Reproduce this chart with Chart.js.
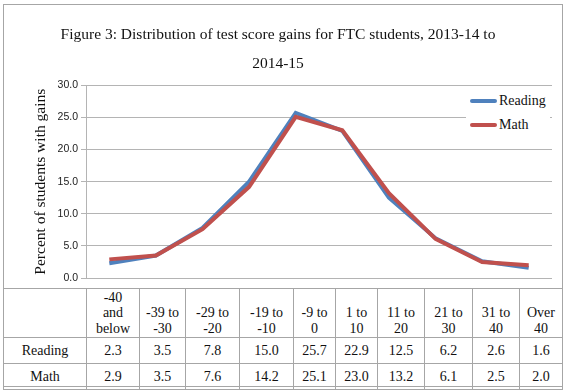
<!DOCTYPE html>
<html>
<head>
<meta charset="utf-8">
<script src="https://cdn.jsdelivr.net/npm/chart.js@4"></script>
<style>
  body { margin: 0; background: #fff; }
  #wrap { position: relative; width: 565px; height: 391px; }
  #frame { position: absolute; left: 3px; top: 4px; width: 558px; height: 381px; border: 1px solid #a6a6a6; }
  #chart { position: absolute; left: 0; top: 0; }
  #legend { position: absolute; left: 466px; top: 90px; width: 84px; height: 50px; background: #fff;
            font-family: "Liberation Serif", serif; font-size: 14px; color: #111; }
  #legend .item { position: absolute; left: 4px; height: 16px; line-height: 16px; }
  #legend .swatch { position: absolute; left: 0; top: 6px; width: 27px; height: 4px; border-radius: 2px; }
  #legend .lbl { position: absolute; left: 29px; top: 0; white-space: nowrap; }
  #tbl { position: absolute; left: 3px; top: 288px; border-collapse: collapse; table-layout: fixed;
         font-family: "Liberation Serif", serif; font-size: 14px; color: #111; }
  #tbl td { border: 1px solid #a6a6a6; text-align: center; padding: 0 1px; }
  #tbl tr.head td { height: 47px; vertical-align: bottom; line-height: 15.5px; padding-bottom: 1px; }
  #tbl tr.val td { height: 25px; vertical-align: middle; }
</style>
</head>
<body>
<div id="wrap">
  <div id="frame"></div>
  <canvas id="chart" width="565" height="288"></canvas>
  <div id="legend"></div>
  <table id="tbl"></table>
</div>
<script>
// 성적 구간 (table header uses the same list)
const categories = [
  "-40 and below",
  "-39 to -30",
  "-29 to -20",
  "-19 to -10",
  "-9 to 0",
  "1 to 10",
  "11 to 20",
  "21 to 30",
  "31 to 40",
  "Over 40",
];
// how each header is broken into lines in the table
const headerLines = [
  ["-40", "and", "below"],
  ["-39 to", "-30"],
  ["-29 to", "-20"],
  ["-19 to", "-10"],
  ["-9 to", "0"],
  ["1 to", "10"],
  ["11 to", "20"],
  ["21 to", "30"],
  ["31 to", "40"],
  ["Over", "40"],
];
const reading = [2.3, 3.5, 7.8, 15.0, 25.7, 22.9, 12.5, 6.2, 2.6, 1.6];
const math = [2.9, 3.5, 7.6, 14.2, 25.1, 23.0, 13.2, 6.1, 2.5, 2.0];
const yTicks = [0, 5, 10, 15, 20, 25, 30];

const colWidths = [83, 53, 46, 54, 54, 42, 42, 47, 48, 47, 43];

const series = [
  { label: "Reading", data: reading, color: "#4f81bd" },
  { label: "Math", data: math, color: "#c0504d" },
];

const config_line = {
  type: "line",
  data: {
    labels: categories,
    datasets: series.map((s, i) => ({
      label: s.label,
      data: s.data,
      borderColor: s.color,
      backgroundColor: s.color,
      borderWidth: 4,
      pointRadius: 0,
      tension: 0,
      fill: false,
      order: series.length - i, // math on top
    })),
  },
  options: {
    responsive: false,
    animation: false,
    layout: { padding: { left: 4, right: 13, top: 0, bottom: 10 } },
    plugins: {
      legend: { display: false },
      tooltip: { enabled: false },
      title: {
        display: true,
        text: ["Figure 3: Distribution of test score gains for FTC students, 2013-14 to", "2014-15"],
        color: "#111",
        font: { family: "Liberation Serif", size: 15.5, weight: "normal", lineHeight: 1.85 },
        padding: { top: 21, bottom: 7 },
      },
    },
    scales: {
      x: {
        offset: true,
        grid: { display: false },
        border: { display: false },
        ticks: { display: false },
        afterFit: (s) => { s.height = 0; },
      },
      y: {
        min: 0,
        max: 30,
        afterBuildTicks: (s) => { s.ticks = yTicks.map((v) => ({ value: v })); },
        afterFit: (s) => { s.width = 82; },
        ticks: {
          padding: 3,
          color: "#222",
          font: { family: "Liberation Sans", size: 10.5 },
          callback: (v) => Number(v).toFixed(1),
        },
        grid: { color: "#b4b4b4", lineWidth: 1, tickLength: 5 },
        border: { color: "#b4b4b4" },
        title: {
          display: true,
          text: "Percent of students with gains",
          color: "#111",
          font: { family: "Liberation Serif", size: 15.5 },
          padding: { top: 28, bottom: 0 },
        },
      },
    },
  },
};

const lineChart = new Chart(document.getElementById("chart"), config_line);

// legend
const legend = document.getElementById("legend");
series.forEach((s, i) => {
  const item = document.createElement("div");
  item.className = "item";
  item.style.top = (3 + i * 24) + "px";
  item.innerHTML = '<span class="swatch" style="background:' + s.color + '"></span><span class="lbl">' + s.label + "</span>";
  legend.appendChild(item);
});

// data table
const tbl = document.getElementById("tbl");
const cg = document.createElement("colgroup");
colWidths.forEach((w) => {
  const c = document.createElement("col");
  c.style.width = w + "px";
  cg.appendChild(c);
});
tbl.appendChild(cg);

let head = "<tr class='head'><td></td>";
headerLines.forEach((lines) => { head += "<td>" + lines.join("<br>") + "</td>"; });
head += "</tr>";
let rows = "";
series.forEach((s) => {
  rows += "<tr class='val'><td>" + s.label + "</td>";
  s.data.forEach((v) => { rows += "<td>" + v.toFixed(1) + "</td>"; });
  rows += "</tr>";
});
tbl.insertAdjacentHTML("beforeend", head + rows);
</script>
</body>
</html>
